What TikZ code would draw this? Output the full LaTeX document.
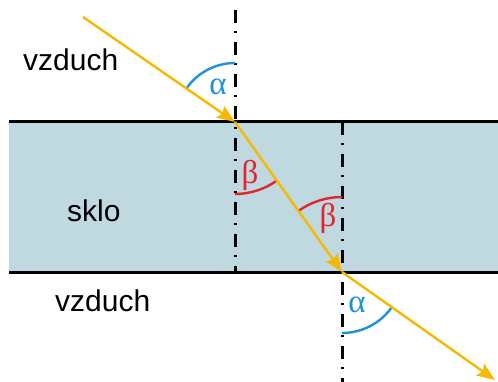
\documentclass[tikz,border=0pt]{standalone}
\usepackage{fontspec}
\setmainfont{Liberation Sans}
\newfontfamily\greekfont{Liberation Serif}
\usetikzlibrary{arrows.meta}
\definecolor{rayyellow}{RGB}{246,184,0}
\definecolor{angblue}{RGB}{28,147,214}
\definecolor{angred}{RGB}{222,38,43}
\definecolor{glassfill}{RGB}{192,217,224}
\begin{document}
\begin{tikzpicture}[x=1pt,y=-1pt,
  ray/.style={draw=rayyellow,line width=2.4pt,-{Stealth[length=18pt,width=14pt,inset=3pt]}},
  normal/.style={draw=black,line width=3pt,dash pattern=on 13pt off 8pt on 2pt off 9pt},
  boundary/.style={draw=black,line width=3pt},
  medium/.style={anchor=base west,inner sep=0pt,font=\fontsize{30}{36}\selectfont},
  anglab/.style={inner sep=0pt,font=\fontsize{33}{40}\selectfont\greekfont}]
\path[use as bounding box] (0,0) rectangle (498,382);
\fill[glassfill] (9,122) rectangle (498,272);
\coordinate (L1) at (9,122);
\coordinate (R1) at (498,122);
\coordinate (L2) at (9,272);
\coordinate (R2) at (498,272);
\coordinate (P1) at (235,122);
\coordinate (P2) at (342,272);
\coordinate (S) at (83,17);
\coordinate (E) at (495,380);
\coordinate (N1top) at (235,10);
\coordinate (N1bot) at (235,272);
\coordinate (N2top) at (342,122);
\coordinate (N2bot) at (342,382);
\draw[boundary] (L1) -- (R1);
\draw[boundary] (L2) -- (R2);
\draw[normal] (N1top) -- (N1bot);
\draw[normal] (N2top) -- (N2bot);
\draw[angblue,line width=2.4pt] ([shift={(-90:59)}]P1) arc[start angle=-90,end angle=-145.4,radius=59];
\draw[angred,line width=2.4pt] ([shift={(90:72)}]P1) arc[start angle=90,end angle=54.5,radius=72];
\draw[angred,line width=2.4pt] ([shift={(-90:75)}]P2) arc[start angle=-90,end angle=-125.5,radius=75];
\draw[angblue,line width=2.4pt] ([shift={(90:61)}]P2) arc[start angle=90,end angle=35.2,radius=61];
\draw[ray] (S) -- (P1);
\draw[ray] (P1) -- (P2);
\draw[ray] (P2) -- (E);
\node[medium] (vzduch1) at (23,71) {vzduch};
\node[medium] (sklo) at (67,222) {sklo};
\node[medium] (vzduch2) at (55,311) {vzduch};
\node[anglab,text=angblue] (alpha1) at (218,87) {α};
\node[anglab,text=angred] (beta1) at (250,175) {β};
\node[anglab,text=angred] (beta2) at (328,218) {β};
\node[anglab,text=angblue] (alpha2) at (357,305) {α};
\end{tikzpicture}
\end{document}
